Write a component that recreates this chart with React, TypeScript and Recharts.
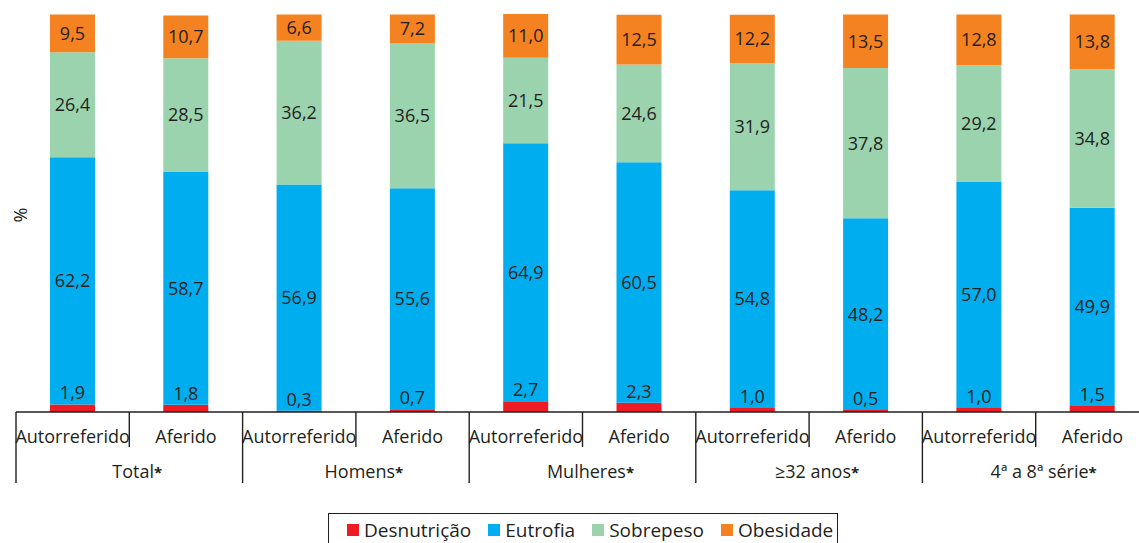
import { BarChart, Bar, XAxis, YAxis, LabelList } from "recharts";

const categories = [
  "Autorreferido", "Aferido",
  "Autorreferido", "Aferido",
  "Autorreferido", "Aferido",
  "Autorreferido", "Aferido",
  "Autorreferido", "Aferido",
];
const groups = ["Total", "Homens", "Mulheres", "≥32 anos", "4ª a 8ª série"];

const desnutricao = [1.9, 1.8, 0.3, 0.7, 2.7, 2.3, 1.0, 0.5, 1.0, 1.5];
const eutrofia = [62.2, 58.7, 56.9, 55.6, 64.9, 60.5, 54.8, 48.2, 57.0, 49.9];
const sobrepeso = [26.4, 28.5, 36.2, 36.5, 21.5, 24.6, 31.9, 37.8, 29.2, 34.8];
const obesidade = [9.5, 10.7, 6.6, 7.2, 11.0, 12.5, 12.2, 13.5, 12.8, 13.8];

const series = [
  { key: "desnutricao", name: "Desnutrição", color: "#ed1c24" },
  { key: "eutrofia", name: "Eutrofia", color: "#00aeef" },
  { key: "sobrepeso", name: "Sobrepeso", color: "#9bd3ae" },
  { key: "obesidade", name: "Obesidade", color: "#f58220" },
];

const data = categories.map((c, i) => ({
  name: c,
  idx: i,
  desnutricao: desnutricao[i],
  eutrofia: eutrofia[i],
  sobrepeso: sobrepeso[i],
  obesidade: obesidade[i],
}));

const FONT = "'Open Sans', sans-serif";
const INK = "#231f20";

const fmt = (v: any) => Number(v).toFixed(1).replace(".", ",");

function CatTick(props: any) {
  const { x, y, payload } = props;
  const i = payload.index;
  const half = payload.offset || 56.6;
  const left = x - half;
  const isGroupStart = i % 2 === 0;
  return (
    <g>
      <line
        x1={left}
        x2={left}
        y1={y}
        y2={isGroupStart ? y + 71 : y + 35}
        stroke={INK}
        strokeWidth={1.4}
      />
      <text x={x} y={y + 31} textAnchor="middle" fontFamily={FONT} fontSize={18} fill={INK}>
        {payload.value}
      </text>
      {isGroupStart && (
        <text x={x + half + 8} y={y + 66} textAnchor="middle" fontFamily={FONT} fontSize={18} fill={INK}>
          {groups[i / 2]}
          <tspan fontSize={15} fontWeight="bold">*</tspan>
        </text>
      )}
    </g>
  );
}

export default function App() {
  return (
    <div
      style={{
        position: "absolute",
        left: 0,
        top: 0,
        width: 1139,
        height: 543,
        overflow: "hidden",
        background: "#fff",
      }}
    >
      <BarChart
        width={1149}
        height={543}
        data={data}
        margin={{ top: 14, right: 0, left: 16, bottom: 51 }}
        barCategoryGap="30%"
      >
        <XAxis
          dataKey="name"
          interval={0}
          height={80}
          tickLine={false}
          tickSize={0}
          tickMargin={0}
          axisLine={{ stroke: INK, strokeWidth: 1.4 }}
          tick={<CatTick />}
        />
        <YAxis hide domain={[0, 100]} />
        {series.map((s) => (
          <Bar
            key={s.key}
            dataKey={s.key}
            name={s.name}
            stackId="a"
            fill={s.color}
            isAnimationActive={false}
          >
            <LabelList
              dataKey={s.key}
              position={s.key === "desnutricao" ? "top" : "center"}
              formatter={fmt}
              style={{ fontFamily: FONT, fontSize: 18, fill: INK }}
            />
          </Bar>
        ))}
      </BarChart>

      <div
        style={{
          position: "absolute",
          left: 20,
          top: 215,
          transform: "translate(-50%, -50%) rotate(-90deg)",
          fontFamily: FONT,
          fontSize: 18,
          color: INK,
        }}
      >
        %
      </div>

      <div
        style={{
          position: "absolute",
          left: 328,
          top: 513,
          width: 510,
          height: 40,
          border: `1px solid ${INK}`,
          boxSizing: "border-box",
          display: "flex",
          alignItems: "flex-start",
          paddingLeft: 18,
          paddingTop: 3,
          fontFamily: FONT,
          fontSize: 19,
          color: INK,
        }}
      >
        {series.map((s) => (
          <div key={s.key} style={{ display: "flex", alignItems: "center", marginRight: 17 }}>
            <span style={{ width: 12, height: 12, background: s.color, marginRight: 5, display: "inline-block" }} />
            <span style={{ lineHeight: "26px" }}>{s.name}</span>
          </div>
        ))}
      </div>
    </div>
  );
}
